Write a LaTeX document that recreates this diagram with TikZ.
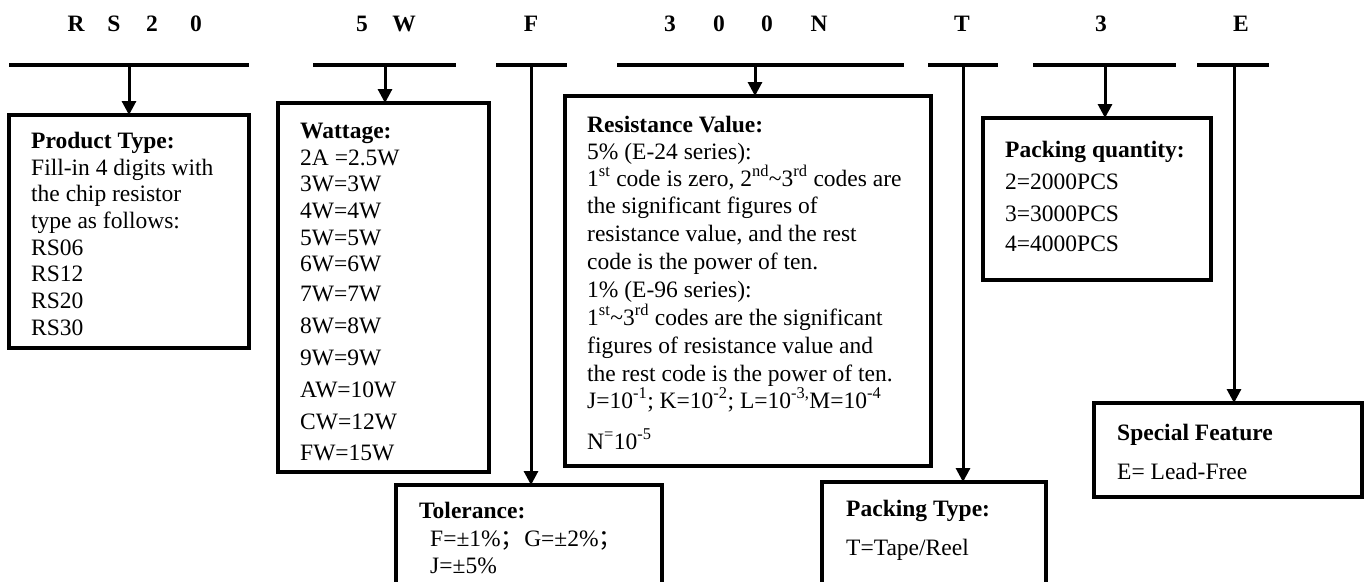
\documentclass[tikz,border=0pt]{standalone}
\usepackage{fontspec}
\setmainfont{Liberation Serif}
\newfontfamily\cjk{Noto Sans CJK SC}
\usetikzlibrary{arrows.meta}
\tikzset{
  bar/.style={line width=4pt},
  conn/.style={line width=3pt},
  arr/.style={line width=3pt, -{Triangle[width=14pt,length=14pt]}},
  box/.style={draw, line width=4pt, inner sep=0pt, outer sep=0pt, anchor=north west},
  txt/.style={anchor=base west, inner sep=0pt, font=\fontsize{23.5}{28}\selectfont},
  ttl/.style={anchor=base west, inner sep=0pt, font=\fontsize{23.5}{28}\selectfont\bfseries},
  hdr/.style={anchor=base, inner sep=0pt, font=\fontsize{23.5}{28}\selectfont\bfseries},
}
\newcommand{\sps}[1]{\textsuperscript{#1}}
\begin{document}
\begin{tikzpicture}[x=1pt,y=-1pt]
\useasboundingbox (0,0) rectangle (1364,581);
\clip (0,0) rectangle (1364,581);
\fill[white] (0,0) rectangle (1364,581);

% header letters
\foreach \xx/\c [count=\i] in {76/R,114/S,152/2,196/0,362/5,404/W,531/F,670/3,719/0,767/0,819/N,962/T,1101/3,1241/E}
  \node[hdr] (h\i) at (\xx,31) {\c};

% bars
\coordinate (b1w) at (9,65);    \coordinate (b1e) at (249,65);  \coordinate (b1a) at (129,65);
\coordinate (b2w) at (313,65);  \coordinate (b2e) at (456,65);  \coordinate (b2a) at (385,65);
\coordinate (b3w) at (496,65);  \coordinate (b3e) at (567,65);  \coordinate (b3a) at (531,65);
\coordinate (b4w) at (617,65);  \coordinate (b4e) at (904,65);  \coordinate (b4a) at (755,65);
\coordinate (b5w) at (928,65);  \coordinate (b5e) at (998,65);  \coordinate (b5a) at (963,65);
\coordinate (b6w) at (1033,65); \coordinate (b6e) at (1176,65); \coordinate (b6a) at (1105,65);
\coordinate (b7w) at (1197,65); \coordinate (b7e) at (1269,65); \coordinate (b7a) at (1234,65);
\foreach \i in {1,...,7} \draw[bar] (b\i w) -- (b\i e);

% boxes
\node[box, minimum width=240pt, minimum height=233pt] (pt) at (9,115) {};
\node[box, minimum width=211pt, minimum height=369pt] (wt) at (278,103) {};
\node[box, minimum width=366pt, minimum height=370pt] (rv) at (565,96) {};
\node[box, minimum width=266pt, minimum height=120pt] (tol) at (396,485) {};
\node[box, minimum width=224pt, minimum height=120pt] (ptp) at (822,482) {};
\node[box, minimum width=228pt, minimum height=162pt] (pq) at (983,118) {};
\node[box, minimum width=268pt, minimum height=94pt] (sf) at (1094,403) {};

% connectors
\draw[arr] (b1a) -- (b1a |- pt.north);
\draw[arr] (b2a) -- (b2a |- wt.north);
\draw[arr] (b3a) -- (b3a |- tol.north);
\draw[arr] (b4a) -- (b4a |- rv.north);
\draw[arr] (b5a) -- (b5a |- ptp.north);
\draw[arr] (b6a) -- (b6a |- pq.north);
\draw[arr] (b7a) -- (b7a |- sf.north);

% Product type
\node[ttl] (pt0) at (31,148) {Product Type:};
\node[txt] (pt1) at (31,175) {Fill-in 4 digits with};
\node[txt] (pt2) at (31,201) {the chip resistor};
\node[txt] (pt3) at (31,228) {type as follows:};
\node[txt] (pt4) at (31,255) {RS06};
\node[txt] (pt5) at (31,281) {RS12};
\node[txt] (pt6) at (31,308) {RS20};
\node[txt] (pt7) at (31,335) {RS30};

% Wattage
\node[ttl] (wt0) at (300,138) {Wattage:};
\foreach \yy/\t [count=\i] in {165/2A =2.5W,191/3W=3W,218/4W=4W,245/5W=5W,271/6W=6W,301/7W=7W,333/8W=8W,365/9W=9W,397/AW=10W,429/CW=12W,460/FW=15W}
  \node[txt] (wt\i) at (300,\yy) {\t};

% Resistance value
\node[ttl] (rv0) at (587,132) {Resistance Value:};
\node[txt] (rv1) at (587,159) {5\% (E-24 series):};
\node[txt] (rv2) at (587,186) {1\sps{st} code is zero, 2\sps{nd}\textasciitilde3\sps{rd} codes are};
\node[txt] (rv3) at (587,213) {the significant figures of};
\node[txt] (rv4) at (587,241) {resistance value, and the rest};
\node[txt] (rv5) at (587,269) {code is the power of ten.};
\node[txt] (rv6) at (587,297) {1\% (E-96 series):};
\node[txt] (rv7) at (587,325) {1\sps{st}\textasciitilde3\sps{rd} codes are the significant};
\node[txt] (rv8) at (587,353) {figures of resistance value and};
\node[txt] (rv9) at (587,381) {the rest code is the power of ten.};
\node[txt] (rv10) at (587,408) {J=10\sps{-1}; K=10\sps{-2}; L=10\sps{-3,}M=10\sps{-4}};
\node[txt] (rv11) at (587,449) {N\sps{=}10\sps{-5}};

% Tolerance
\node[ttl] (tol0) at (419,518) {Tolerance:};
\node[txt] (tol1) at (430,546) {F=±1\%{\cjk ；}G=±2\%{\cjk ；}};
\node[txt] (tol2) at (430,573) {J=±5\%};

% Packing type
\node[ttl] (ptp0) at (846,516) {Packing Type:};
\node[txt] (ptp1) at (846,555) {T=Tape/Reel};

% Packing quantity
\node[ttl] (pq0) at (1005,157) {Packing quantity:};
\node[txt] (pq1) at (1005,189) {2=2000PCS};
\node[txt] (pq2) at (1005,221) {3=3000PCS};
\node[txt] (pq3) at (1005,251) {4=4000PCS};

% Special feature
\node[ttl] (sf0) at (1117,440) {Special Feature};
\node[txt] (sf1) at (1117,479) {E= Lead-Free};
\end{tikzpicture}
\end{document}
